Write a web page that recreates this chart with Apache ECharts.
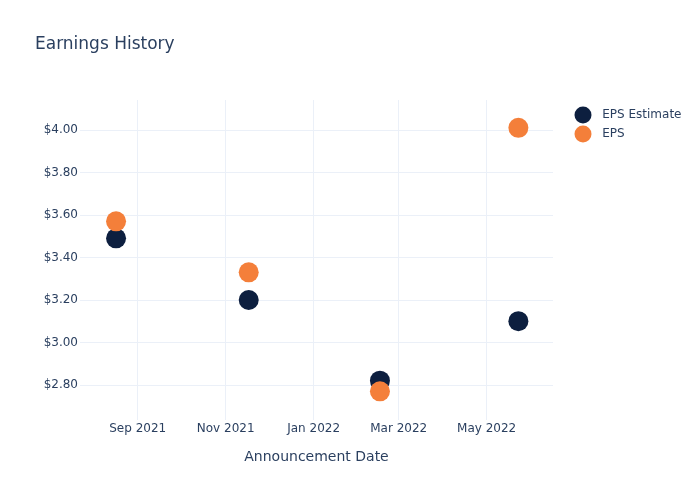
<!DOCTYPE html>
<html>
<head>
<meta charset="utf-8">
<script src="https://cdn.jsdelivr.net/npm/echarts@6/dist/echarts.min.js"></script>
<style>html,body{margin:0;padding:0;background:#fff}#c{width:700px;height:500px}</style>
</head>
<body>
<div id="c"></div>
<script>
const dates = ['2021-08-17', '2021-11-17', '2022-02-16', '2022-05-23'];
const epsEstimate = [3.49, 3.20, 2.82, 3.10];
const eps = [3.57, 3.33, 2.77, 4.01];
const xTickDates = ['2021-09-01', '2021-11-01', '2022-01-01', '2022-03-01', '2022-05-01'];
const xTickLabels = ['Sep 2021', 'Nov 2021', 'Jan 2022', 'Mar 2022', 'May 2022'];
const yTicks = [2.8, 3.0, 3.2, 3.4, 3.6, 3.8, 4.0];

const ts = s => new Date(s + 'T00:00:00Z').getTime();
const xTickTs = xTickDates.map(ts);
const labelMap = {};
xTickTs.forEach((t, i) => labelMap[t] = xTickLabels[i]);

const FONT = 'DejaVu Sans';
const TXT = '#2a3f5f';
const GRID = '#ebf0f8';

const chart = echarts.init(document.getElementById('c'), null, {renderer: 'canvas'});
chart.setOption({
  animation: false,
  backgroundColor: '#fff',
  textStyle: {fontFamily: FONT, color: TXT},
  title: {
    text: 'Earnings History', left: 35, top: 36, padding: 0,
    textStyle: {fontFamily: FONT, fontSize: 17, fontWeight: 'normal', color: TXT}
  },
  legend: {
    orient: 'vertical', left: 569.5, top: 101.5, itemGap: 2,
    icon: 'circle', itemWidth: 28.5, itemHeight: 17,
    textStyle: {fontFamily: FONT, fontSize: 12, color: TXT},
    data: ['EPS Estimate', 'EPS']
  },
  grid: {left: 80, top: 100, width: 473, height: 320, containLabel: false},
  xAxis: {
    type: 'value',
    min: ts('2021-07-23'), max: ts('2022-06-16'),
    name: 'Announcement Date', nameLocation: 'middle', nameGap: 30,
    nameTextStyle: {fontFamily: FONT, fontSize: 14, color: TXT},
    axisLine: {show: false}, 
    axisTick: {show: false, customValues: xTickTs},
    axisLabel: {customValues: xTickTs, margin: 3, fontFamily: FONT, fontSize: 12, color: TXT,
      formatter: v => labelMap[v] || ''},
    splitLine: {show: true, lineStyle: {color: GRID, width: 1}}
  },
  yAxis: {
    type: 'value', min: 2.635, max: 4.141,
    axisLine: {show: false},
    axisTick: {show: false, customValues: yTicks},
    axisLabel: {customValues: yTicks, margin: 2, fontFamily: FONT, fontSize: 12, color: TXT,
      formatter: v => '$' + v.toFixed(2)},
    splitLine: {show: true, lineStyle: {color: GRID, width: 1}}
  },
  series: [
    {name: 'EPS Estimate', type: 'scatter', symbolSize: 20, itemStyle: {color: '#0d1f3f', opacity: 1},
      data: dates.map((d, i) => [ts(d), epsEstimate[i]])},
    {name: 'EPS', type: 'scatter', symbolSize: 20, itemStyle: {color: '#f47f3a', opacity: 1},
      data: dates.map((d, i) => [ts(d), eps[i]])}
  ]
});
</script>
</body>
</html>
